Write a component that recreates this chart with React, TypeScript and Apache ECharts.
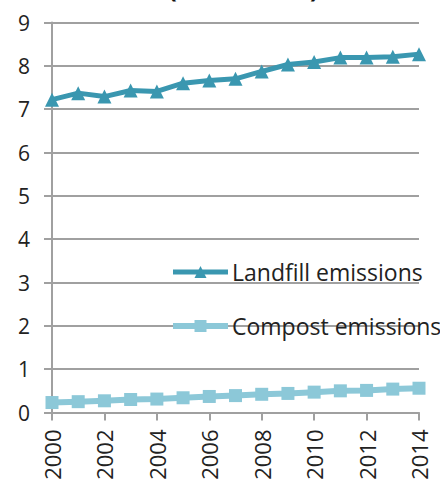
import React, { useEffect, useRef } from "react";
import * as echarts from "echarts";

const years = ["2000","2001","2002","2003","2004","2005","2006","2007","2008","2009","2010","2011","2012","2013","2014"];
const landfill = [7.22, 7.37, 7.29, 7.43, 7.41, 7.6, 7.66, 7.7, 7.87, 8.03, 8.09, 8.19, 8.19, 8.21, 8.27];
const compost = [0.23, 0.25, 0.27, 0.3, 0.31, 0.34, 0.37, 0.39, 0.42, 0.44, 0.47, 0.5, 0.51, 0.54, 0.56];
const seriesNames = ["Landfill emissions", "Compost emissions"];
const titleText = "(MMT CO₂e)";

export default function App() {
  const ref = useRef<HTMLDivElement>(null);
  useEffect(() => {
    const chart = echarts.init(ref.current!, null, { renderer: "svg" });
    const font = "'Open Sans', 'Liberation Sans', sans-serif";
    chart.setOption({
      animation: false,
      backgroundColor: "#ffffff",
      graphic: [
        {
          type: "text",
          left: 168,
          top: -26,
          style: { text: titleText, font: `bold 26px ${font}`, fill: "#111" },
        },
      ],
      grid: { left: 52, right: 21, top: 22.5, bottom: 70.5, containLabel: false },
      legend: {
        orient: "vertical",
        left: 170,
        top: 260,
        padding: 0,
        itemWidth: 55,
        itemHeight: 15,
        itemGap: 30,
        textStyle: { fontFamily: font, fontSize: 23, lineHeight: 24, color: "#222", padding: [0, 0, 0, -1] },
        data: [
          { name: seriesNames[0], lineStyle: { width: 5 } },
          { name: seriesNames[1], lineStyle: { width: 6 } },
        ],
      },
      xAxis: {
        type: "category",
        data: years,
        boundaryGap: false,
        axisLine: { lineStyle: { color: "#a0a0a0", width: 2 } },
        axisTick: { show: true, length: 8, interval: 1, lineStyle: { color: "#a0a0a0", width: 2 } },
        axisLabel: {
          interval: 1,
          rotate: 90,
          margin: 17,
          fontFamily: font,
          fontSize: 22,
          color: "#222",
        },
        splitLine: { show: false },
      },
      yAxis: {
        type: "value",
        min: 0,
        max: 9,
        interval: 1,
        axisLine: { show: true, lineStyle: { color: "#a0a0a0", width: 2 } },
        axisTick: { show: true, length: 8, lineStyle: { color: "#a0a0a0", width: 2 } },
        axisLabel: { margin: 22, fontFamily: font, fontSize: 21, color: "#222" },
        splitLine: { lineStyle: { color: "#a0a0a0", width: 2 } },
      },
      series: [
        {
          name: seriesNames[0],
          type: "line",
          data: landfill,
          symbol: "triangle",
          symbolSize: 14,
          color: "#3a97b0",
          lineStyle: { color: "#3a97b0", width: 5 },
          itemStyle: { color: "#3a97b0" },
        },
        {
          name: seriesNames[1],
          type: "line",
          data: compost,
          symbol: "rect",
          symbolSize: 13,
          color: "#8cc8d8",
          lineStyle: { color: "#8cc8d8", width: 6 },
          itemStyle: { color: "#8cc8d8" },
        },
      ],
    });
    return () => chart.dispose();
  }, []);
  return <div ref={ref} style={{ width: 440, height: 483, position: "absolute", left: 0, top: 0 }} />;
}
